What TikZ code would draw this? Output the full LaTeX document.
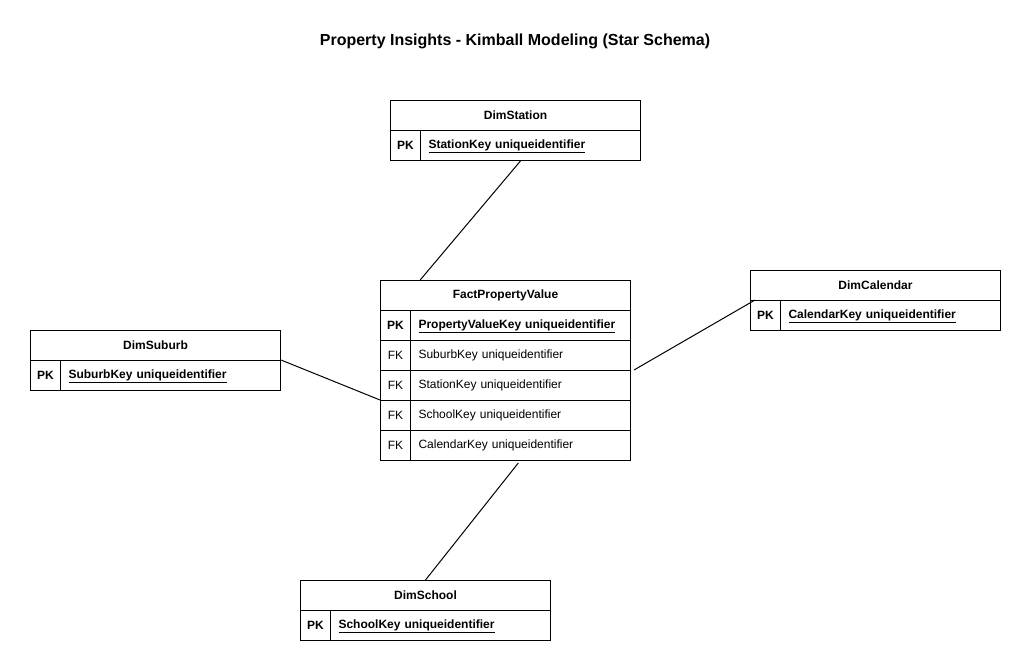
\documentclass[tikz,border=0pt]{standalone}
\usepackage{fontspec}
\setmainfont{Liberation Sans}
\usetikzlibrary{calc}
\newcommand\keyline[1]{\raisebox{0pt}[\height][2.6pt]{\underline{#1}}}
\begin{document}
\begin{tikzpicture}[x=1pt,y=-1pt,
 cell/.style={draw, rectangle, anchor=north west, inner sep=0pt, minimum height=30pt, line width=1pt, font=\fontsize{12}{14}\selectfont},
 head/.style={cell, minimum width=250pt, font=\fontsize{12}{14}\selectfont\bfseries},
 key/.style={cell, minimum width=30pt},
 pkey/.style={key, font=\fontsize{12}{14}\selectfont\bfseries},
 field/.style={cell, text width=204pt, inner xsep=8pt, align=left},
 pfield/.style={field, font=\fontsize{12}{14}\selectfont\bfseries},
 link/.style={draw, line width=1pt}]
\useasboundingbox[fill=white] (0,0) rectangle (1031,671);
\node[font=\fontsize{16}{19}\selectfont\bfseries] (title) at (515,41) {Property Insights - Kimball Modeling (Star Schema)};

% DimStation
\node[head] (st-h) at (390,100) {DimStation};
\node[pkey] (st-k) at (390,130) {PK};
\node[pfield] (st-f) at (420,130) {\keyline{StationKey uniqueidentifier}};

% FactPropertyValue
\node[head] (fc-h) at (380,280) {FactPropertyValue};
\node[pkey] (fc-k0) at (380,310) {PK};
\node[pfield] (fc-r0) at (410,310) {\keyline{PropertyValueKey uniqueidentifier}};
\node[key] (fc-k1) at (380,340) {FK};
\node[field] (fc-r1) at (410,340) {SuburbKey uniqueidentifier};
\node[key] (fc-k2) at (380,370) {FK};
\node[field] (fc-r2) at (410,370) {StationKey uniqueidentifier};
\node[key] (fc-k3) at (380,400) {FK};
\node[field] (fc-r3) at (410,400) {SchoolKey uniqueidentifier};
\node[key] (fc-k4) at (380,430) {FK};
\node[field] (fc-r4) at (410,430) {CalendarKey uniqueidentifier};

% DimCalendar
\node[head] (ca-h) at (750,270) {DimCalendar};
\node[pkey] (ca-k) at (750,300) {PK};
\node[pfield] (ca-f) at (780,300) {\keyline{CalendarKey uniqueidentifier}};

% DimSuburb
\node[head] (su-h) at (30,330) {DimSuburb};
\node[pkey] (su-k) at (30,360) {PK};
\node[pfield] (su-f) at (60,360) {\keyline{SuburbKey uniqueidentifier}};

% DimSchool
\node[head] (sc-h) at (300,580) {DimSchool};
\node[pkey] (sc-k) at (300,610) {PK};
\node[pfield] (sc-f) at (330,610) {\keyline{SchoolKey uniqueidentifier}};

% connectors
\draw[link] ($(st-f.south west)!0.4545!(st-f.south east)$) -- ($(fc-h.north west)!0.16!(fc-h.north east)$);
\draw[link] (su-f.north east) -- (fc-k3.north west);
\draw[link] ([xshift=3pt]fc-r2.north east) -- ([xshift=5pt]ca-k.north west);
\draw[link] ($(fc-r4.south west)!0.49!(fc-r4.south east)+(0,2)$) -- (sc-h.north);
\end{tikzpicture}
\end{document}
